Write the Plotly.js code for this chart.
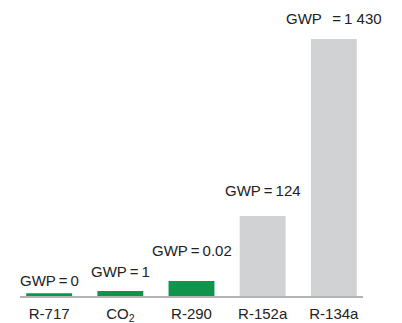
<!DOCTYPE html>
<html>
<head>
<meta charset="utf-8">
<script src="https://cdn.plot.ly/plotly-3.0.1.min.js"></script>
<style>html,body{margin:0;padding:0;background:#fff;}#chart{width:402px;height:323px;}</style>
</head>
<body>
<div id="chart"></div>
<script>
// Data (bar heights are illustrative, as in the reference)
const categories = ["R-717", "CO<sub>2</sub>", "R-290", "R-152a", "R-134a"];
const barHeights = [2.7, 5, 15, 80, 257];
const gwpLabels = ["GWP\u2009=\u20090", "GWP\u2009=\u20091", "GWP\u2009=\u20090.02", "GWP\u2009=\u2009124", "GWP\u2002\u2009=\u20091 430"];
const barColors = ["#10934a", "#10934a", "#10934a", "#d1d2d4", "#d1d2d4"];

// label offsets above bars (style)
const labelShift = [2, 9, 20, 15, 10];

const trace = {
  type: "bar",
  x: [0, 1, 2, 3, 4],
  y: barHeights,
  marker: {color: barColors, line: {width: 0}},
  width: 0.645,
  hoverinfo: "skip"
};

const annotations = gwpLabels.map((t, i) => ({
  x: i, y: barHeights[i], xref: "x", yref: "y",
  text: t, showarrow: false, yanchor: "bottom", xanchor: "center",
  yshift: labelShift[i],
  font: {family: "Liberation Sans, Arial, sans-serif", size: 15, color: "#222"}
}));

const layout = {
  width: 402, height: 323,
  margin: {l: 20, r: 39, t: 26, b: 27},
  paper_bgcolor: "#fff", plot_bgcolor: "#fff",
  showlegend: false,
  xaxis: {
    range: [-0.41, 4.41],
    tickvals: [0, 1, 2, 3, 4],
    ticktext: categories,
    showgrid: false, zeroline: false,
    showline: true, linecolor: "#b3b3b3", linewidth: 1.5,
    ticks: "outside", ticklen: 3, tickcolor: "rgba(0,0,0,0)",
    tickfont: {family: "Liberation Sans, Arial, sans-serif", size: 15, color: "#222"},
    automargin: false, fixedrange: true
  },
  yaxis: {
    range: [0, 270], visible: false, showgrid: false, zeroline: false, fixedrange: true
  },
  annotations: annotations
};

Plotly.newPlot("chart", [trace], layout, {displayModeBar: false, staticPlot: true});
</script>
</body>
</html>
